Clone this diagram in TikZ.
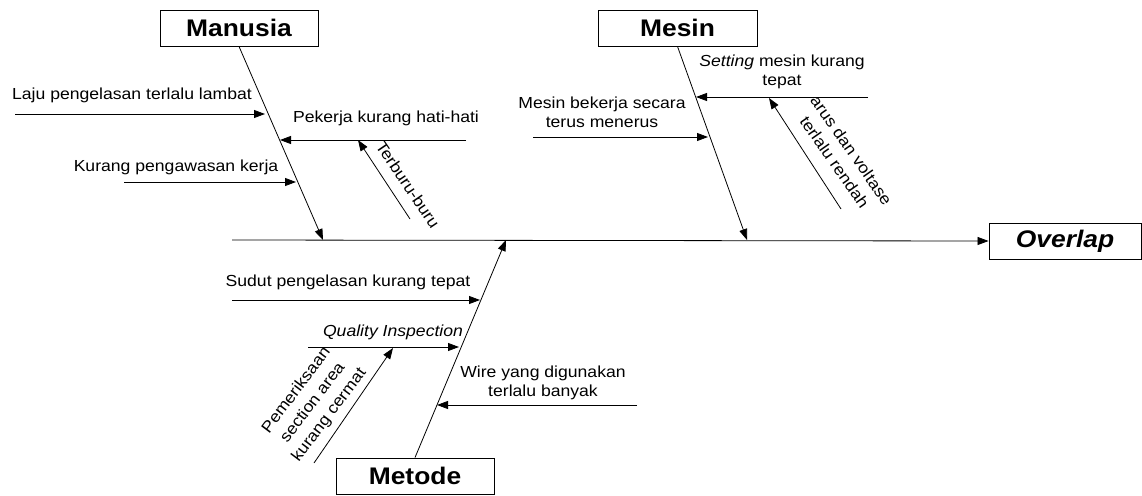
\documentclass[tikz,border=0pt]{standalone}
\usepackage{fontspec}
\setmainfont[FakeStretch=1.1]{Liberation Sans}
\usetikzlibrary{arrows.meta}
\begin{document}
\begin{tikzpicture}[x=1pt,y=-1pt,
  line width=0.8pt,
  cat/.style={draw,line width=0.9pt,inner sep=0pt,minimum width=158pt,minimum height=36pt,font=\fontsize{24}{28}\selectfont\bfseries},
  lbl/.style={inner sep=0pt,align=center,font=\fontsize{16}{19}\selectfont},
  rlbl/.style={inner sep=0pt,align=center,font=\fontsize{16}{20.5}\selectfont},
  arr/.style={-{Triangle[length=11pt,width=8pt]}}]
\useasboundingbox (0,0) rectangle (1142,495);
% category boxes
\node[cat] (man) at (239,28) {Manusia};
\node[cat,minimum width=159pt] (mes) at (677.5,28) {Mesin};
\node[cat] (met) at (415,476) {Metode};
\node[cat,minimum width=152pt,font=\fontsize{24}{28}\selectfont\bfseries\itshape] (ovl) at (1065,241) {Overlap};
% spine
\coordinate (s0) at (232,240);
\draw[arr] (s0) -- (ovl.west);
% main bones
\coordinate (mb) at (323,240);
\coordinate (eb) at (747,240);
\coordinate (tb) at (506,240);
\draw[arr] (man.south) -- (mb);
\draw[arr] (mes.south) -- (eb);
\draw[arr] (met.north) -- (tb);
% Manusia causes
\coordinate (a1) at (15,114);  \coordinate (a1e) at (265,114);
\coordinate (a2) at (466,140); \coordinate (a2e) at (280,140);
\coordinate (a3) at (124,182); \coordinate (a3e) at (296,182);
\coordinate (a4) at (410,219); \coordinate (a4e) at (358,140);
\draw[arr] (a1) -- (a1e);
\draw[arr] (a2) -- (a2e);
\draw[arr] (a3) -- (a3e);
\draw[arr] (a4) -- (a4e);
\node[lbl] (t1) at (132,95) {Laju pengelasan terlalu lambat};
\node[lbl] (t2) at (386,118) {Pekerja kurang hati-hati};
\node[lbl] (t3) at (176,167) {Kurang pengawasan kerja};
\node[lbl,rotate=-56] (t4) at (408,185) {Terburu-buru};
% Mesin causes
\coordinate (b1) at (533,137); \coordinate (b1e) at (708,137);
\coordinate (b2) at (868,97);  \coordinate (b2e) at (696,97);
\coordinate (b3) at (841,209); \coordinate (b3e) at (769,98);
\draw[arr] (b1) -- (b1e);
\draw[arr] (b2) -- (b2e);
\draw[arr] (b3) -- (b3e);
\node[lbl] (u1) at (602,112) {Mesin bekerja secara\\terus menerus};
\node[lbl] (u2) at (782,72) {\textit{Setting} mesin kurang\\tepat};
\node[rlbl,rotate=-55] (u3) at (843,156) {arus dan voltase\\terlalu rendah};
% Metode causes
\coordinate (c1) at (232,300); \coordinate (c1e) at (480,300);
\coordinate (c2) at (308,347); \coordinate (c2e) at (459,347);
\coordinate (c3) at (314,463); \coordinate (c3e) at (393,348);
\coordinate (c4) at (637,405); \coordinate (c4e) at (437,405);
\draw[arr] (c1) -- (c1e);
\draw[arr] (c2) -- (c2e);
\draw[arr] (c3) -- (c3e);
\draw[arr] (c4) -- (c4e);
\node[lbl] (v1) at (348,282) {Sudut pengelasan kurang tepat};
\node[lbl,font=\fontsize{16}{19}\selectfont\itshape] (v2) at (393,332) {Quality Inspection};
\node[rlbl,rotate=53] (v3) at (313,403) {Pemeriksaan\\section area\\kurang cermat};
\node[lbl] (v4) at (543,383) {Wire yang digunakan\\terlalu banyak};
\end{tikzpicture}
\end{document}
